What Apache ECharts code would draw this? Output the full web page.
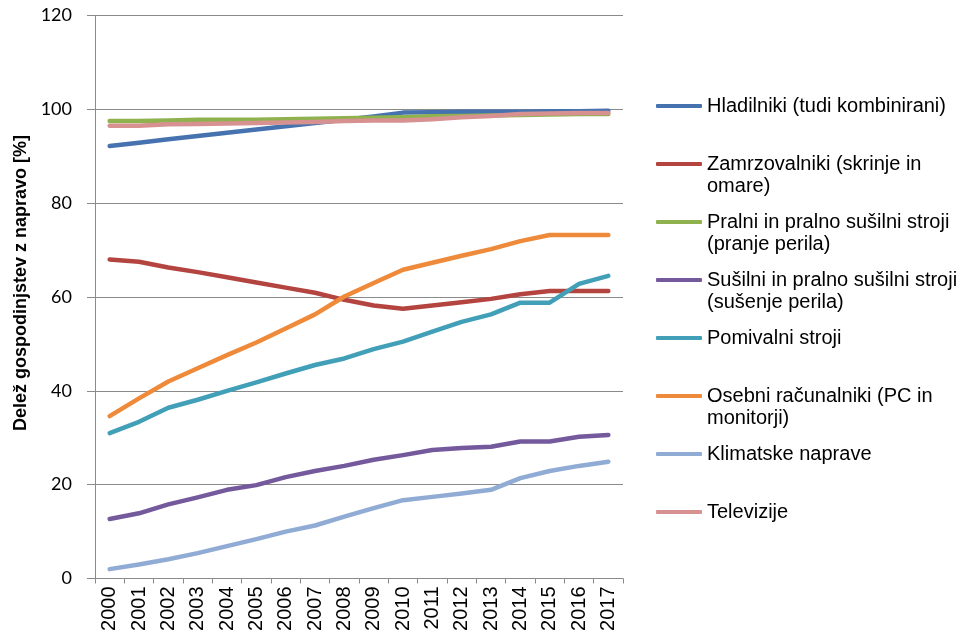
<!DOCTYPE html>
<html>
<head>
<meta charset="utf-8">
<script src="https://cdn.jsdelivr.net/npm/echarts@6/dist/echarts.min.js"></script>
<style>
  html, body { margin: 0; padding: 0; background: #fff; }
  #chart { width: 960px; height: 641px; }
</style>
</head>
<body>
<div id="chart"></div>
<script>
// Years on the category axis
const years = ['2000','2001','2002','2003','2004','2005','2006','2007','2008',
               '2009','2010','2011','2012','2013','2014','2015','2016','2017'];

// Share of households owning each appliance [%]
const hladilniki    = [92.2, 92.9, 93.6, 94.3, 95.0, 95.7, 96.4, 97.1, 97.8, 98.5, 99.3, 99.4, 99.5, 99.5, 99.5, 99.6, 99.6, 99.7];
const zamrzovalniki = [68.0, 67.5, 66.3, 65.3, 64.2, 63.1, 62.0, 60.9, 59.4, 58.2, 57.5, 58.2, 58.9, 59.6, 60.6, 61.3, 61.3, 61.3];
const pralni        = [97.5, 97.5, 97.6, 97.8, 97.8, 97.8, 97.9, 98.0, 98.1, 98.2, 98.3, 98.5, 98.6, 98.7, 98.8, 98.9, 99.0, 99.0];
const susilni       = [12.7, 13.9, 15.8, 17.3, 18.9, 19.9, 21.6, 22.9, 24.0, 25.3, 26.3, 27.4, 27.8, 28.1, 29.2, 29.2, 30.2, 30.6];
const pomivalni     = [31.0, 33.4, 36.4, 38.1, 40.0, 41.8, 43.7, 45.5, 46.9, 48.9, 50.5, 52.6, 54.7, 56.3, 58.8, 58.8, 62.8, 64.5];
const racunalniki   = [34.6, 38.4, 42.0, 44.8, 47.6, 50.3, 53.3, 56.3, 60.1, 63.0, 65.8, 67.3, 68.8, 70.2, 71.9, 73.2, 73.2, 73.2];
const klimatske     = [ 2.0,  3.0,  4.1,  5.4,  6.9,  8.4, 10.0, 11.3, 13.2, 15.0, 16.7, 17.4, 18.1, 18.9, 21.4, 22.9, 24.0, 24.9];
const televizije    = [96.5, 96.5, 96.8, 96.9, 97.0, 97.1, 97.2, 97.3, 97.5, 97.6, 97.6, 97.9, 98.3, 98.6, 99.0, 99.1, 99.2, 99.2];

// Series names (legend text wraps at the line breaks)
const names = [
  'Hladilniki (tudi kombinirani)',
  'Zamrzovalniki (skrinje in\nomare)',
  'Pralni in pralno sušilni stroji\n(pranje perila)',
  'Sušilni in pralno sušilni stroji\n(sušenje perila)',
  'Pomivalni stroji',
  'Osebni računalniki (PC in\nmonitorji)',
  'Klimatske naprave',
  'Televizije'
];
const values = [hladilniki, zamrzovalniki, pralni, susilni, pomivalni, racunalniki, klimatske, televizije];
const colors = ['#4672B0', '#B4443F', '#8FB24F', '#74599D', '#429FB8', '#EE8A3A', '#90ACD5', '#D69190'];

// Y axis ticks
const yMin = 0, yMax = 120, yStep = 20;

const chart = echarts.init(document.getElementById('chart'), null, { renderer: 'canvas' });

const gridColor = '#8a8a8a';
const textFont = 'Liberation Sans';

chart.setOption({
  backgroundColor: '#ffffff',
  animation: false,
  color: colors,
  grid: { left: 95, right: 337, top: 15.5, bottom: 62.5, containLabel: false },
  legend: {
    orient: 'vertical',
    left: 656,
    top: 73,
    padding: 0,
    itemWidth: 46,
    itemHeight: 4,
    itemGap: -8,
    icon: 'roundRect',
    selectedMode: false,
    // Keep each symbol level with the first line of its label
    formatter: function (name) {
      return '\n' + name + (name.indexOf('\n') < 0 ? '\n' : '');
    },
    textStyle: {
      fontFamily: textFont,
      fontSize: 20,
      lineHeight: 22,
      color: '#000'
    },
    data: names
  },
  xAxis: {
    type: 'category',
    data: years,
    boundaryGap: true,
    axisLine: { lineStyle: { color: gridColor, width: 1 } },
    axisTick: { show: true, length: 5, alignWithLabel: false, interval: 0, lineStyle: { color: gridColor } },
    axisLabel: {
      interval: 0,
      rotate: 90,
      margin: 8,
      fontFamily: textFont,
      fontSize: 20,
      color: '#000'
    },
    splitLine: { show: false }
  },
  yAxis: {
    type: 'value',
    min: yMin,
    max: yMax,
    interval: yStep,
    name: 'Delež gospodinjstev z napravo [%]',
    nameLocation: 'middle',
    nameGap: 64,
    nameTextStyle: {
      fontFamily: textFont,
      fontSize: 18,
      fontWeight: 'bold',
      color: '#000',
      padding: [0, 0, 0, 28]
    },
    axisLine: { show: true, lineStyle: { color: gridColor, width: 1 } },
    axisTick: { show: true, length: 8, lineStyle: { color: gridColor } },
    axisLabel: {
      margin: 23,
      fontFamily: 'Lato',
      fontSize: 18,
      color: '#000'
    },
    splitLine: { show: true, lineStyle: { color: gridColor, width: 1 } }
  },
  series: names.map(function (n, i) {
    return {
      name: n,
      type: 'line',
      data: values[i],
      showSymbol: false,
      symbol: 'none',
      smooth: false,
      lineStyle: { width: 4.5, color: colors[i], cap: 'round', join: 'round' },
      itemStyle: { color: colors[i] }
    };
  })
});
</script>
</body>
</html>
